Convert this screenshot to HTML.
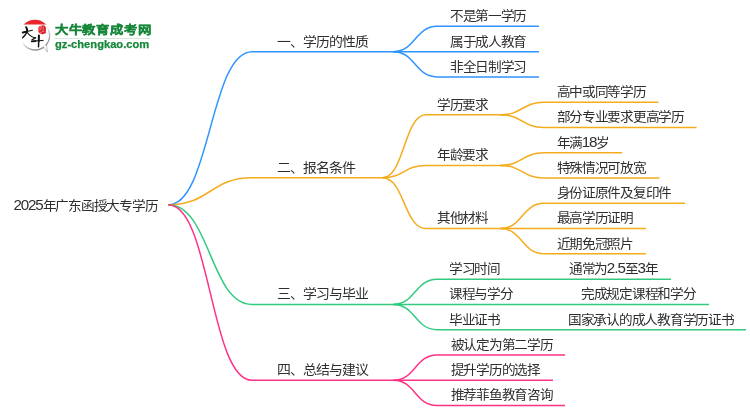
<!DOCTYPE html>
<html lang="zh-CN"><head><meta charset="utf-8"><title>2025年广东函授大专学历</title>
<style>
html,body{margin:0;padding:0;background:#fff;}
body{width:750px;height:410px;overflow:hidden;font-family:"Liberation Sans",sans-serif;}
svg{display:block;will-change:transform;}
.t text.m{font-size:13px;}
.t .d{font-size:14.2px;}
.t text{font-family:"Liberation Sans",sans-serif;font-size:12.75px;fill:#2e2e2e;letter-spacing:0px;}
</style></head><body>
<svg width="750" height="410" viewBox="0 0 750 410">
<g fill="none" stroke-width="1.5" stroke-linecap="butt">
<path d="M168.3,204.8C210.2,204.8 210.2,51.63 252,51.63H400" stroke="#2E94FF"/>
<path d="M168.3,204.8C210.2,204.8 210.2,177.73 252,177.73H385" stroke="#F5AC1C"/>
<path d="M168.3,204.8C210.2,204.8 210.2,304.43 252,304.43H400" stroke="#33CA80"/>
<path d="M168.3,204.8C210.2,204.8 210.2,380.27 252,380.27H400" stroke="#FF3386"/>
<path d="M393.5,51.63C415.2,51.63 415.2,26.35 437,26.35H539" stroke="#2E94FF"/>
<path d="M393.5,51.63C415.2,51.63 415.2,51.63 437,51.63H539" stroke="#2E94FF"/>
<path d="M393.5,51.63C415.2,51.63 415.2,76.91 437,76.91H539" stroke="#2E94FF"/>
<path d="M382.5,177.73C404.2,177.73 404.2,114.83 426,114.83H508" stroke="#F5AC1C"/>
<path d="M500.5,114.83C522.2,114.83 522.2,102.19 544,102.19H658.5" stroke="#F5AC1C"/>
<path d="M500.5,114.83C522.2,114.83 522.2,127.47 544,127.47H696.6" stroke="#F5AC1C"/>
<path d="M382.5,177.73C404.2,177.73 404.2,165.39 426,165.39H508" stroke="#F5AC1C"/>
<path d="M500.5,165.39C522.2,165.39 522.2,152.75 544,152.75H622" stroke="#F5AC1C"/>
<path d="M500.5,165.39C522.2,165.39 522.2,178.03 544,178.03H659.5" stroke="#F5AC1C"/>
<path d="M382.5,177.73C404.2,177.73 404.2,228.59 426,228.59H508" stroke="#F5AC1C"/>
<path d="M500.5,228.59C522.2,228.59 522.2,203.31 544,203.31H685" stroke="#F5AC1C"/>
<path d="M500.5,228.59C522.2,228.59 522.2,228.59 544,228.59H646" stroke="#F5AC1C"/>
<path d="M500.5,228.59C522.2,228.59 522.2,253.87 544,253.87H646" stroke="#F5AC1C"/>
<path d="M393.5,304.43C415.2,304.43 415.2,279.15 437,279.15H671" stroke="#33CA80"/>
<path d="M393.5,304.43C415.2,304.43 415.2,304.43 437,304.43H709" stroke="#33CA80"/>
<path d="M393.5,304.43C415.2,304.43 415.2,329.71 437,329.71H746" stroke="#33CA80"/>
<path d="M393.5,380.27C415.2,380.27 415.2,354.99 437,354.99H565" stroke="#FF3386"/>
<path d="M393.5,380.27C415.2,380.27 415.2,380.27 437,380.27H553" stroke="#FF3386"/>
<path d="M393.5,380.27C415.2,380.27 415.2,405.55 437,405.55H565" stroke="#FF3386"/>
</g>
<g class="t">
<text transform="translate(13.6 210) scale(1.07 1)" x="0 6.78 13.55 20.33 27.24 39.13 51.03 62.93 74.83 86.72 98.62 110.52 122.42"><tspan class="d">2025</tspan>年广东函授大专学历</text>
<text class="m" transform="translate(277.2 46) scale(1.07 1)" x="0 12.07 24.15 36.22 48.3 60.37 72.45">一、学历的性质</text>
<text class="m" transform="translate(277.2 172) scale(1.07 1)" x="0 12.07 24.15 36.22 48.3 60.37">二、报名条件</text>
<text class="m" transform="translate(277.2 298) scale(1.07 1)" x="0 12.07 24.15 36.22 48.3 60.37 72.45">三、学习与毕业</text>
<text class="m" transform="translate(277.2 374) scale(1.07 1)" x="0 12.07 24.15 36.22 48.3 60.37 72.45">四、总结与建议</text>
<text transform="translate(449.8 20) scale(1.07 1)" x="0 11.9 23.79 35.69 47.59 59.49">不是第一学历</text>
<text transform="translate(449.8 46) scale(1.07 1)" x="0 11.9 23.79 35.69 47.59 59.49">属于成人教育</text>
<text transform="translate(449.8 71) scale(1.07 1)" x="0 11.9 23.79 35.69 47.59 59.49">非全日制学习</text>
<text transform="translate(437 109) scale(1.07 1)" x="0 11.9 23.79 35.69">学历要求</text>
<text transform="translate(556.5 96) scale(1.07 1)" x="0 11.9 23.79 35.69 47.59 59.49 71.38">高中或同等学历</text>
<text transform="translate(556.5 121) scale(1.07 1)" x="0 11.9 23.79 35.69 47.59 59.49 71.38 83.28 95.18 107.07">部分专业要求更高学历</text>
<text transform="translate(437 159) scale(1.07 1)" x="0 11.9 23.79 35.69">年龄要求</text>
<text transform="translate(556.5 147) scale(1.07 1)" x="0 11.9 23.66 30.44 37.35">年满<tspan class="d">18</tspan>岁</text>
<text transform="translate(556.5 172) scale(1.07 1)" x="0 11.9 23.79 35.69 47.59 59.49 71.38">特殊情况可放宽</text>
<text transform="translate(437 222) scale(1.07 1)" x="0 11.9 23.79 35.69">其他材料</text>
<text transform="translate(556.5 197) scale(1.07 1)" x="0 11.9 23.79 35.69 47.59 59.49 71.38 83.28 95.18">身份证原件及复印件</text>
<text transform="translate(556.5 222) scale(1.07 1)" x="0 11.9 23.79 35.69 47.59 59.49">最高学历证明</text>
<text transform="translate(556.5 248) scale(1.07 1)" x="0 11.9 23.79 35.69 47.59 59.49">近期免冠照片</text>
<text transform="translate(449 273) scale(1.07 1)" x="0 11.9 23.79 35.69">学习时间</text>
<text transform="translate(568.8 273) scale(1.07 1)" x="0 11.9 23.79 35.56 42.51 45.51 52.42 64.18 71.09">通常为<tspan class="d">2.5</tspan>至<tspan class="d">3</tspan>年</text>
<text transform="translate(449 298) scale(1.07 1)" x="0 11.9 23.79 35.69 47.59">课程与学分</text>
<text transform="translate(581 298) scale(1.07 1)" x="0 11.9 23.79 35.69 47.59 59.49 71.38 83.28 95.18">完成规定课程和学分</text>
<text transform="translate(449 324) scale(1.07 1)" x="0 11.9 23.79 35.69">毕业证书</text>
<text transform="translate(568 324) scale(1.07 1)" x="0 11.9 23.79 35.69 47.59 59.49 71.38 83.28 95.18 107.07 118.97 130.87 142.77">国家承认的成人教育学历证书</text>
<text transform="translate(450.6 349) scale(1.07 1)" x="0 11.9 23.79 35.69 47.59 59.49 71.38 83.28">被认定为第二学历</text>
<text transform="translate(450.6 374) scale(1.07 1)" x="0 11.9 23.79 35.69 47.59 59.49 71.38">提升学历的选择</text>
<text transform="translate(450.6 399) scale(1.07 1)" x="0 11.9 23.79 35.69 47.59 59.49 71.38 83.28">推荐菲鱼教育咨询</text>
</g>
<g id="logo">
<defs>
<linearGradient id="lg1" x1="0.245" y1="0.07" x2="0.755" y2="0.93"><stop offset="0.48" stop-color="#fafafa"/><stop offset="0.62" stop-color="#cfcfcf"/><stop offset="0.8" stop-color="#aaaaaa"/><stop offset="1" stop-color="#8e8e8e"/></linearGradient>
<clipPath id="capclip"><rect x="18" y="15" width="36" height="9.5"/></clipPath>
</defs>
<path d="M43.2,46.8 Q45.2,48.6 47.4,52.2 Q46.8,48 46.5,44.8 Z" fill="#fff" stroke="#adadad" stroke-width="0.8" stroke-linejoin="round"/>
<circle cx="35.2" cy="35.6" r="14.4" fill="#fff" stroke="url(#lg1)" stroke-width="1.3"/>
<path d="M43.4,46.2 L46.4,50.2 L45.9,45.0 Z" fill="#fff"/>
<circle cx="34.9" cy="34.8" r="15.1" fill="#e8262d" clip-path="url(#capclip)"/>
<g fill="none" stroke="#111" stroke-linecap="round" stroke-linejoin="round">
<path d="M22.8,32.5 L25.6,31.8" stroke-width="1.9"/>
<path d="M24.6,32.0 L32.4,30.3" stroke-width="1.15"/>
<path d="M26.2,27.2 Q27,28.6 27.2,30.2" stroke-width="2.0"/>
<path d="M27.2,29.6 Q27,33.8 22.6,37.8" stroke-width="1.4"/>
<path d="M27.4,32.5 Q30,36.6 35.3,38.0" stroke-width="1.2"/>
<path d="M35.6,37.7 L32.0,39.9" stroke-width="1.3"/>
<path d="M31.9,41.4 L35.4,41.1" stroke-width="1.9"/>
<path d="M34,41.1 Q38,40.8 43.0,40.5" stroke-width="1.25"/>
<path d="M38.9,35.6 L38.8,41" stroke-width="2.0"/>
<path d="M38.8,40 L38.5,46.8" stroke-width="1.5"/>
</g>
<path d="M38.4,27.8 Q38.6,25.4 41.2,25.8 Q43.4,24.6 45.2,26.2 Q46.6,28 45.8,30.4 Q46.6,33 44.8,33.6 Q42.6,34.8 40.4,33.6 Q37.8,32.6 38.4,30 Z" fill="#e11f27"/>
<g fill="none" stroke="#f6b9bb" stroke-width="0.6" stroke-linecap="round">
<path d="M39.4,27.0 L41.4,26.6 M39.8,28.4 L41.8,28.0 M43.2,27.0 V30.2 M39.6,30.0 L40.8,29.8 M42.2,31.4 L43.8,31.6 M40.6,32.4 L41.4,32.5"/>
</g>
<text transform="translate(54.6 34.3) scale(1.02 0.885)" style="font-family:'Liberation Sans',sans-serif;font-weight:bold;font-size:13.1px;fill:#17873a;stroke:#17873a;stroke-width:0.35px;letter-spacing:0.05px">大牛教育成考网</text>
<rect x="54.5" y="38.1" width="95.5" height="0.9" fill="#cfe6d6"/>
<text x="55" y="47.8" textLength="94.2" lengthAdjust="spacingAndGlyphs" style="font-family:'Liberation Sans',sans-serif;font-weight:bold;font-size:10.5px;fill:#17873a;stroke:#17873a;stroke-width:0.25px">gz-chengkao.com</text>
</g>

</svg>
</body></html>
